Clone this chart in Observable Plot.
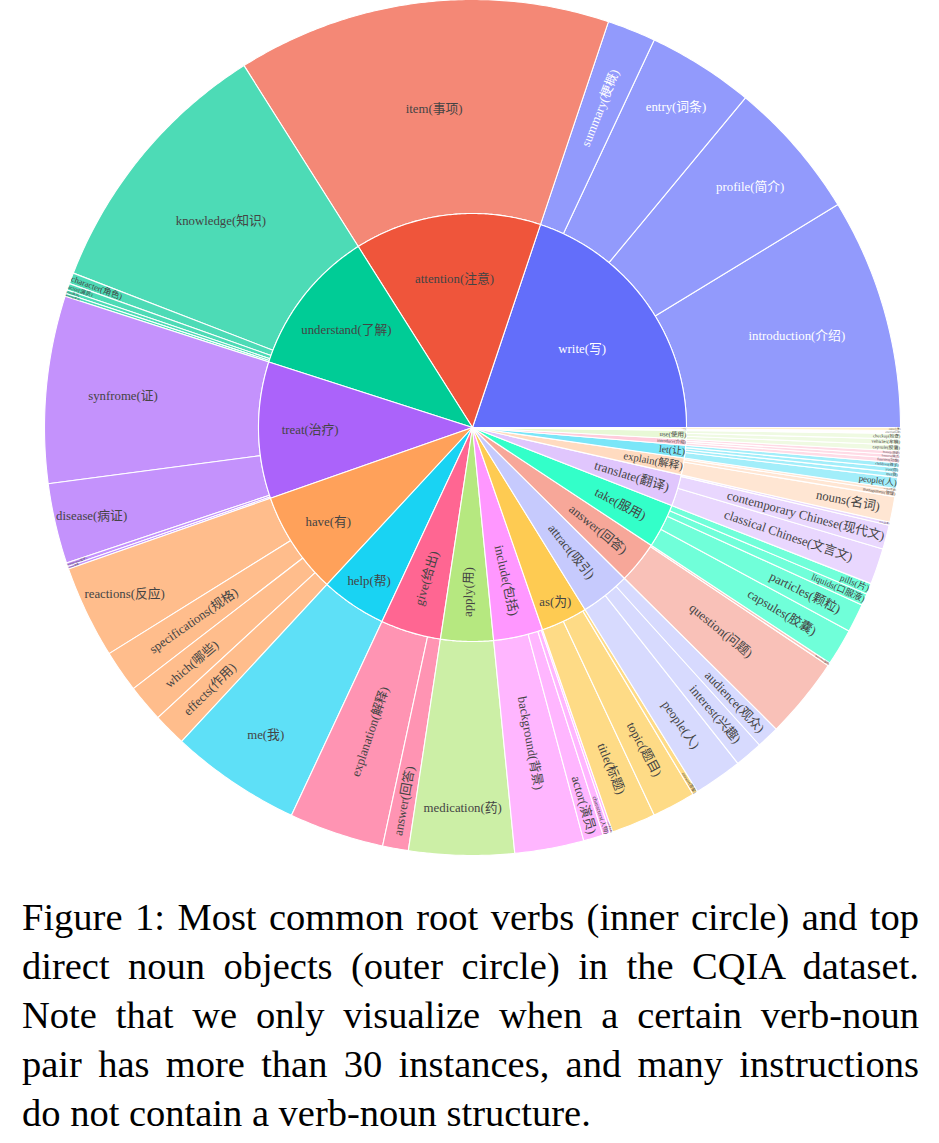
<!DOCTYPE html>
<html>
<head>
<meta charset="utf-8">
<script src="https://cdn.jsdelivr.net/npm/d3@7"></script>
<script src="https://cdn.jsdelivr.net/npm/@observablehq/plot@0.6"></script>
<style>
  body { margin: 0; background: #fff; }
  #chart { position: absolute; left: 0; top: 0; width: 939px; height: 856px; }
  #caption { position: absolute; left: 22px; top: 893px; width: 897px;
    font-family: "Liberation Serif", "Times New Roman", serif; font-size: 38.5px; line-height: 49px; color: #000; }
  #caption div { white-space: nowrap; }
  .j { text-align: justify; text-align-last: justify; }
</style>
</head>
<body>
<div id="chart"></div>
<div id="caption">
  <div class="j">Figure 1: Most common root verbs (inner circle) and top</div>
  <div class="j">direct noun objects (outer circle) in the CQIA dataset.</div>
  <div class="j">Note that we only visualize when a certain verb-noun</div>
  <div class="j">pair has more than 30 instances, and many instructions</div>
  <div>do not contain a verb-noun structure.</div>
</div>
<script>
// ---- data (instances per verb-noun pair) ----
const verbs = ["write(写)", "attention(注意)", "understand(了解)", "treat(治疗)", "have(有)", "help(帮)",
  "give(给出)", "apply(用)", "include(包括)", "as(为)", "attract(吸引)", "answer(回答)", "take(服用)",
  "translate(翻译)", "explain(解释)", "let(让)", "introduce(介绍)", "use(使用)", "do(做)", "list(列出)"];

const leafVerb = [
  "write(写)", "write(写)", "write(写)", "write(写)",
  "attention(注意)",
  "understand(了解)", "understand(了解)", "understand(了解)", "understand(了解)", "understand(了解)",
  "treat(治疗)", "treat(治疗)", "treat(治疗)", "treat(治疗)",
  "have(有)", "have(有)", "have(有)", "have(有)",
  "help(帮)",
  "give(给出)", "give(给出)",
  "apply(用)",
  "include(包括)", "include(包括)", "include(包括)", "include(包括)",
  "as(为)", "as(为)", "as(为)",
  "attract(吸引)", "attract(吸引)", "attract(吸引)",
  "answer(回答)", "answer(回答)",
  "take(服用)", "take(服用)", "take(服用)", "take(服用)",
  "translate(翻译)", "translate(翻译)", "translate(翻译)",
  "explain(解释)", "explain(解释)", "explain(解释)",
  "let(让)", "let(让)", "let(让)", "let(让)",
  "introduce(介绍)", "introduce(介绍)", "introduce(介绍)",
  "use(使用)", "use(使用)", "use(使用)",
  "do(做)",
  "list(列出)"
];
const leafNoun = [
  "introduction(介绍)", "profile(简介)", "entry(词条)", "summary(梗概)",
  "item(事项)",
  "knowledge(知识)", "character(角色)", "actor(演员)", "plot(情节)", "meaning(含义)",
  "synfrome(证)", "disease(病证)", "symptoms(症状)", "illness(疾病)",
  "reactions(反应)", "specifications(规格)", "which(哪些)", "effects(作用)",
  "me(我)",
  "explanation(解释)", "answer(回答)",
  "medication(药)",
  "background(背景)", "actor(演员)", "characters(人物)", "cast(演员表)",
  "title(标题)", "topic(题目)", "answer(答案)",
  "people(人)", "interest(兴趣)", "audience(观众)",
  "question(问题)", "questions(提问)",
  "capsules(胶囊)", "particles(颗粒)", "liquids(口服液)", "pills(片)",
  "classical Chinese(文言文)", "contemporary Chinese(现代文)", "text(文本)",
  "nouns(名词)", "management(管理)", "terms(术语)",
  "people(人)", "me(我)", "you(你)", "children(孩子)",
  "function(功能)", "features(特点)", "history(历史)",
  "capsule(胶囊)", "vehicles(车辆)", "checkup(检查)",
  "exercise(运动)",
  "steps(步骤)"
];
const leafCount = [
  3140, 1900, 1450, 660,
  5080,
  3660, 150, 90, 50, 40,
  2540, 1090, 50, 35,
  1260, 570, 510, 450,
  1780,
  1290, 350,
  1430,
  940, 270, 100, 35,
  600, 590, 70,
  660, 380, 310,
  1100, 40,
  500, 390, 160, 150,
  490, 330, 40,
  350, 70, 40,
  150, 65, 65, 65,
  60, 50, 50,
  80, 80, 75,
  40,
  40
];
const colorway = ["#636efa", "#EF553B", "#00cc96", "#ab63fa", "#FFA15A", "#19d3f3", "#FF6692", "#B6E880", "#FF97FF", "#FECB52"];

// ---- layout (sunburst geometry, Plotly-like) ----
const R_OUT = 428, R_IN = 214, BASE_FONT = 12.8;
const FONT = '"Liberation Serif", "Times New Roman", "Noto Sans CJK SC", serif';

const shade = (c, d) => { const h = d3.hsl(c); h.l = Math.max(0, Math.min(1, h.l + d)); return h.formatHex(); };
const colors = colorway.concat(colorway.map(c => shade(c, 0.2)), colorway.map(c => shade(c, -0.2)));
const brightness = c => { const r = d3.rgb(c); return (r.r * 299 + r.g * 587 + r.b * 114) / 1000; };

const total = d3.sum(leafCount);
const sectors = [];
let acc = 0;
verbs.forEach((v, i) => {
  const idx = leafVerb.map((p, j) => p === v ? j : -1).filter(j => j >= 0);
  const vTotal = d3.sum(idx, j => leafCount[j]);
  const a0 = acc / total * 2 * Math.PI;
  const vColor = colors[i % colors.length];
  const textColor = brightness(vColor) < 128 ? "#ffffff" : "#444444";
  let inner = acc;
  idx.forEach(j => {
    sectors.push({id: "n" + j, label: leafNoun[j], r0: R_IN, r1: R_OUT,
      a0: inner / total * 2 * Math.PI, a1: (inner + leafCount[j]) / total * 2 * Math.PI,
      color: d3.interpolateRgb("#ffffff", vColor)(0.7), textColor});
    inner += leafCount[j];
  });
  acc += vTotal;
  sectors.push({id: "v" + i, label: v, r0: 0, r1: R_IN, a0, a1: acc / total * 2 * Math.PI, color: vColor, textColor});
});

// polygon outlines
const polys = [];
for (const s of sectors) {
  const n = Math.max(2, Math.ceil((s.a1 - s.a0) / (Math.PI / 360)));
  const pts = [];
  for (let k = 0; k <= n; k++) { const a = s.a0 + (s.a1 - s.a0) * k / n; pts.push([s.r1 * Math.cos(a), s.r1 * Math.sin(a)]); }
  if (s.r0 > 0) for (let k = n; k >= 0; k--) { const a = s.a0 + (s.a1 - s.a0) * k / n; pts.push([s.r0 * Math.cos(a), s.r0 * Math.sin(a)]); }
  else pts.push([0, 0]);
  pts.push(pts[0]);
  for (const p of pts) polys.push({id: s.id, x: p[0], y: p[1], color: s.color});
}

// inside-text fitting (horizontal / radial / tangential, pick largest scale)
const ctx = document.createElement("canvas").getContext("2d");
const measure = (t, f) => { ctx.font = `${f}px ${FONT}`; return ctx.measureText(t).width; };
const norm = d => ((((d + 90) % 180) + 180) % 180) - 90;
function maxHalf(a, half, r, ring) {
  const q = a + 1 / (2 * Math.tan(half));
  return r * Math.min(1 / (Math.sqrt(q * q + 0.5) + q), ring / (Math.sqrt(a * a + ring / 2) + a));
}
const labels = sectors.map(s => {
  const w = measure(s.label, BASE_FONT), h = BASE_FONT * 1.15;
  const ring = 1 - s.r0 / s.r1;
  const half = 0.5 * Math.min(s.a1 - s.a0, Math.PI);
  const mid = (s.a0 + s.a1) / 2, midDeg = mid * 180 / Math.PI;
  const rIns = Math.max(0, Math.min(1 / (1 + 1 / Math.sin(half)), ring / 2));
  let best = {scale: rIns * s.r1 * 2 / Math.hypot(w, h), rc: 1 - rIns, rot: 0};
  if (best.scale < 1) {
    const cands = [best];
    let a = w / h, sh = maxHalf(a, half, s.r1, ring);
    cands.push({scale: 2 * sh / h, rc: Math.cos(sh / s.r1) - a * sh / s.r1, rot: norm(-midDeg)});
    a = h / w; sh = maxHalf(a, half, s.r1, ring);
    cands.push({scale: 2 * sh / w, rc: Math.cos(sh / s.r1) - a * sh / s.r1, rot: norm(90 - midDeg)});
    best = cands.reduce((m, c) => c.scale > m.scale ? c : m, cands[0]);
  }
  const rr = s.r1 * best.rc;
  return {text: s.label, x: rr * Math.cos(mid), y: rr * Math.sin(mid), rotate: best.rot,
    size: BASE_FONT * Math.min(1, best.scale), fill: s.textColor};
});

const chart = Plot.plot({
  width: 939, height: 856, margin: 0,
  x: {domain: [-472, 467], axis: null},
  y: {domain: [-429, 427], axis: null},
  color: {type: "identity"},
  style: {fontFamily: FONT, background: "#fff"},
  marks: [
    Plot.line(polys, {x: "x", y: "y", z: "id", fill: "color", stroke: "#ffffff", strokeWidth: 1.1, curve: "linear"}),
    Plot.text(labels, {x: "x", y: "y", text: "text", rotate: "rotate", fontSize: "size", fill: "fill",
      fontFamily: FONT, textAnchor: "middle", lineAnchor: "middle"})
  ]
});
document.getElementById("chart").appendChild(chart);
</script>
</body>
</html>
